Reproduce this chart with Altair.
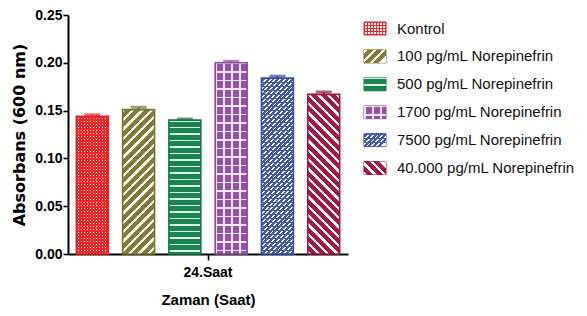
import math
import altair as alt
import pandas as pd

# ---------------- data ----------------
groups = ["Kontrol", "100 pg/mL Norepinefrin", "500 pg/mL Norepinefrin",
          "1700 pg/mL Norepinefrin", "7500 pg/mL Norepinefrin", "40.000 pg/mL Norepinefrin"]
means = [0.144, 0.151, 0.140, 0.200, 0.184, 0.167]
sems = [0.0015, 0.0025, 0.0012, 0.0015, 0.0020, 0.0025]
time_point = "24.Saat"
y_ticks = [0.0, 0.05, 0.10, 0.15, 0.20, 0.25]

# ---------------- style ----------------
fills = ["#FFFFFF", "#857B38", "#17874F", "#9352A8", "#4259B2", "#A51A45"]
edges = ["#EE2229", "#7A7030", "#117A45", "#8A4A9E", "#3A50A6", "#9A1540"]
# pattern overlays: (kind, period px, line px, colour); h=horizontal, v=vertical, f="/", b="\"
patterns = [
    [("v", 3.0, 1.4, "#F0262B"), ("h", 3.0, 1.4, "#F0262B")],
    [("f", 6.6, 2.2, "#FFFFFF")],
    [("h", 6.5, 1.6, "#E2F2E8")],
    [("v", 8.0, 1.6, "rgba(255,255,255,0.85)"), ("h", 8.5, 1.6, "rgba(255,255,255,0.85)")],
    [("f", 3.4, 1.3, "#FFFFFF"), ("h", 4.0, 1.0, "#4259B2")],
    [("b", 6.6, 2.4, "#FFFFFF")],
]

SANS = "Liberation Sans, Arial, sans-serif"
WIDE = "DejaVu Sans, Verdana, sans-serif"

W, H = 280, 239
YMAX = 0.25
PAD_IN, PAD_OUT = 0.31, 0.18
step = W / (len(groups) - PAD_IN + 2 * PAD_OUT)
BAR_W = step * (1 - PAD_IN)

LEG_X0, LEG_X1, LEG_TX = 296, 318, 329
LEG_STEP = 27.9
LEG_C0 = 13.5
LEG_PI = 0.534
LEG_R0 = LEG_C0 - LEG_STEP / 2
LEG_R1 = LEG_R0 + LEG_STEP * len(groups)
LEG_W, LEG_H = LEG_X1 - LEG_X0, LEG_STEP * (1 - LEG_PI)

TRANSPARENT = "rgba(255,255,255,0)"


def band_stops(period_t, line_t, fg):
    stops = []
    t = 0.0
    while t < 1.0:
        b = min(t + line_t, 1.0)
        c = min(t + period_t, 1.0)
        stops.append({"offset": round(t, 5), "color": fg})
        stops.append({"offset": round(b, 5), "color": fg})
        if b < 1.0:
            stops.append({"offset": round(b, 5), "color": TRANSPARENT})
            stops.append({"offset": round(c, 5), "color": TRANSPARENT})
        t += period_t
    return stops


def gradient(kind, w, h, period, line, fg):
    if kind == "h":
        geo = dict(x1=0, y1=0, x2=0, y2=1)
        k = 1.0 / h
    elif kind == "v":
        geo = dict(x1=0, y1=0, x2=1, y2=0)
        k = 1.0 / w
    elif kind == "f":
        geo = dict(x1=0, y1=0, x2=1, y2=h / w)
        k = math.sqrt(2) * w / (w * w + h * h)
    else:
        geo = dict(x1=0, y1=1, x2=1, y2=1 - h / w)
        k = math.sqrt(2) * w / (w * w + h * h)
    return {"gradient": "linear", **geo, "stops": band_stops(period * k, line * k, fg)}


df = pd.DataFrame({"group": groups, "mean": means, "sem": sems})
df["top"] = df["mean"] + df["sem"]
df["time"] = time_point

base = alt.Chart(df)

x_enc = alt.X("time:N", title="Zaman (Saat)",
              scale=alt.Scale(paddingInner=0, paddingOuter=0),
              axis=alt.Axis(labelAngle=0, tickSize=6, labelPadding=5, titlePadding=13,
                            titleFontSize=15, titleFont=SANS, labelFontSize=14))
xo_enc = alt.XOffset("group:N", scale=alt.Scale(domain=groups, paddingInner=PAD_IN,
                                                 paddingOuter=PAD_OUT))
y_axis = alt.Axis(values=y_ticks, format=".2f", tickSize=5, labelPadding=1,
                  titleFont=WIDE, titleFontSize=16, titlePadding=7, labelFontSize=14)
y_scale = alt.Scale(domain=[0, YMAX], nice=False)


def y_of(field):
    return alt.Y(field, title="Absorbans (600 nm)", scale=y_scale, axis=y_axis)


bar_layers = []
for i, g in enumerate(groups):
    sel = base.transform_filter(alt.datum.group == g)
    h_px = means[i] / YMAX * H
    enc = dict(x=x_enc, xOffset=xo_enc, y=y_of("mean:Q"))
    bar_layers.append(sel.mark_bar(fill=fills[i]).encode(**enc))
    for kind, per, line, col in patterns[i]:
        bar_layers.append(sel.mark_bar(fill=gradient(kind, BAR_W, h_px, per, line, col)).encode(**enc))
    bar_layers.append(sel.mark_bar(fillOpacity=0, stroke=edges[i], strokeWidth=1.6).encode(**enc))

err_color = alt.Color("group:N", scale=alt.Scale(domain=groups, range=edges), legend=None)
bar_layers.append(base.mark_rule(strokeWidth=2).encode(
    x=x_enc, xOffset=xo_enc, y=y_of("top:Q"), y2="mean:Q", color=err_color))
bar_layers.append(base.mark_tick(thickness=3, size=16).encode(
    x=x_enc, xOffset=xo_enc, y=y_of("top:Q"), color=err_color))

ly_enc = alt.Y("group:N", axis=None,
               scale=alt.Scale(domain=groups, range=[LEG_R0, LEG_R1],
                               paddingInner=LEG_PI, paddingOuter=LEG_PI / 2))
leg_layers = []
for i, g in enumerate(groups):
    sel = base.transform_filter(alt.datum.group == g)
    enc = dict(x=alt.value(LEG_X0), x2=alt.value(LEG_X1), y=ly_enc)
    leg_layers.append(sel.mark_rect(fill=fills[i], stroke=edges[i], strokeWidth=1).encode(**enc))
    for kind, per, line, col in patterns[i]:
        leg_layers.append(sel.mark_rect(fill=gradient(kind, LEG_W, LEG_H, per, line, col)).encode(**enc))
leg_layers.append(base.mark_text(align="left", baseline="middle", font=SANS, fontSize=15,
                                 color="#111111").encode(
    x=alt.value(LEG_TX), y=ly_enc, text="group:N"))

chart = alt.layer(alt.layer(*bar_layers), alt.layer(*leg_layers)).resolve_scale(
    y="independent"
).properties(
    width=W, height=H,
    autosize=alt.AutoSizeParams(type="none"),
    padding={"left": 60, "top": 7, "right": 231, "bottom": 54},
).configure_view(stroke=None).configure_axis(
    grid=False, domainColor="black", domainWidth=2, tickColor="black", tickWidth=1.6,
    labelFont=SANS, labelFontWeight="bold", labelColor="black",
    titleFontWeight="bold", titleColor="black",
)

chart.save("out.html", embed_options={"renderer": "svg", "actions": False})
